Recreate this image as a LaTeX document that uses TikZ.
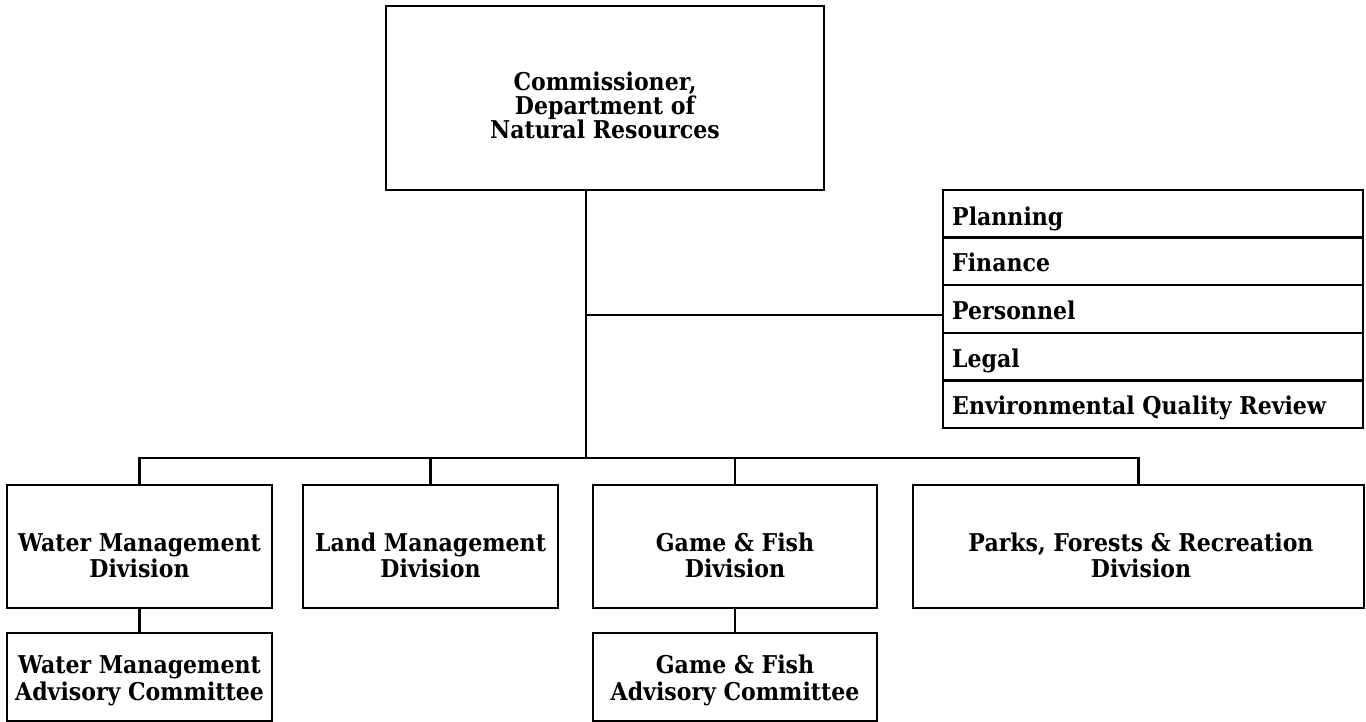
\documentclass[tikz,border=0pt]{standalone}
\usepackage{fontspec}
\setmainfont{DejaVu Serif}[FakeStretch=0.9]
\newcommand\chartfont{\fontsize{24.5}{27}\selectfont\bfseries}
\begin{document}
\begin{tikzpicture}[x=1pt,y=-1pt,
  orgbox/.style={draw, line width=2.5pt, inner sep=0pt},
  staffrow/.style={draw, line width=2.5pt, inner sep=0pt, minimum width=420, minimum height=47.6},
  txt/.style={anchor=base, inner sep=0pt, font=\chartfont},
  stafftxt/.style={anchor=base west, inner sep=0pt, font=\chartfont},
  link/.style={draw, line width=2.5pt}]
\useasboundingbox (0,0) rectangle (1366,721);
\fill[white] (0,0) rectangle (1366,721);

% top
\node[orgbox, minimum width=438, minimum height=184] (comm) at (605,98) {};
\node[txt] (commA) at (605,90) {Commissioner,};
\node[txt] (commB) at (605,114) {Department of};
\node[txt] (commC) at (605,138) {Natural Resources};

% staff
\node[staffrow] (plan) at (1153,213.8) {};
\node[staffrow] (fin)  at (1153,261.4) {};
\node[staffrow] (pers) at (1153,309.0) {};
\node[staffrow] (leg)  at (1153,356.6) {};
\node[staffrow] (eqr)  at (1153,404.2) {};
\node[stafftxt] (planT) at (952,225) {Planning};
\node[stafftxt] (finT)  at (952,271) {Finance};
\node[stafftxt] (persT) at (952,319) {Personnel};
\node[stafftxt] (legT)  at (952,367) {Legal};
\node[stafftxt] (eqrT)  at (952,414) {Environmental Quality Review};

% divisions
\node[orgbox, minimum width=265, minimum height=123] (water) at (139.5,546.5) {};
\node[orgbox, minimum width=255, minimum height=123] (land)  at (430.5,546.5) {};
\node[orgbox, minimum width=284, minimum height=123] (game)  at (735,546.5) {};
\node[orgbox, minimum width=451, minimum height=123] (parks) at (1138.5,546.5) {};
\node[txt] (waterA) at (139.5,551) {Water Management};
\node[txt] (waterB) at (139.5,577) {Division};
\node[txt] (landA)  at (430.5,551) {Land Management};
\node[txt] (landB)  at (430.5,577) {Division};
\node[txt] (gameA)  at (735,551) {Game \& Fish};
\node[txt] (gameB)  at (735,577) {Division};
\node[txt] (parksA) at (1141,551) {Parks, Forests \& Recreation};
\node[txt] (parksB) at (1141,577) {Division};

% advisory committees
\node[orgbox, minimum width=265, minimum height=88] (waterac) at (139.5,677) {};
\node[orgbox, minimum width=284, minimum height=88] (gameac)  at (735,677) {};
\node[txt] (wacA) at (139.5,673) {Water Management};
\node[txt] (wacB) at (139.5,700) {Advisory Committee};
\node[txt] (gacA) at (735,673) {Game \& Fish};
\node[txt] (gacB) at (735,700) {Advisory Committee};

% connectors
\coordinate (bus) at (586,458);
\coordinate (sj) at (586,315);
\draw[link] (comm.south -| bus) -- (bus);
\draw[link] (sj) -- (sj -| pers.west);
\draw[link] (water.north) |- (parks.north |- bus) -- (parks.north);
\draw[link] (land.north) -- (land.north |- bus);
\draw[link] (game.north) -- (game.north |- bus);
\draw[link] (water.south) -- (waterac.north);
\draw[link] (game.south) -- (gameac.north);
\end{tikzpicture}
\end{document}
